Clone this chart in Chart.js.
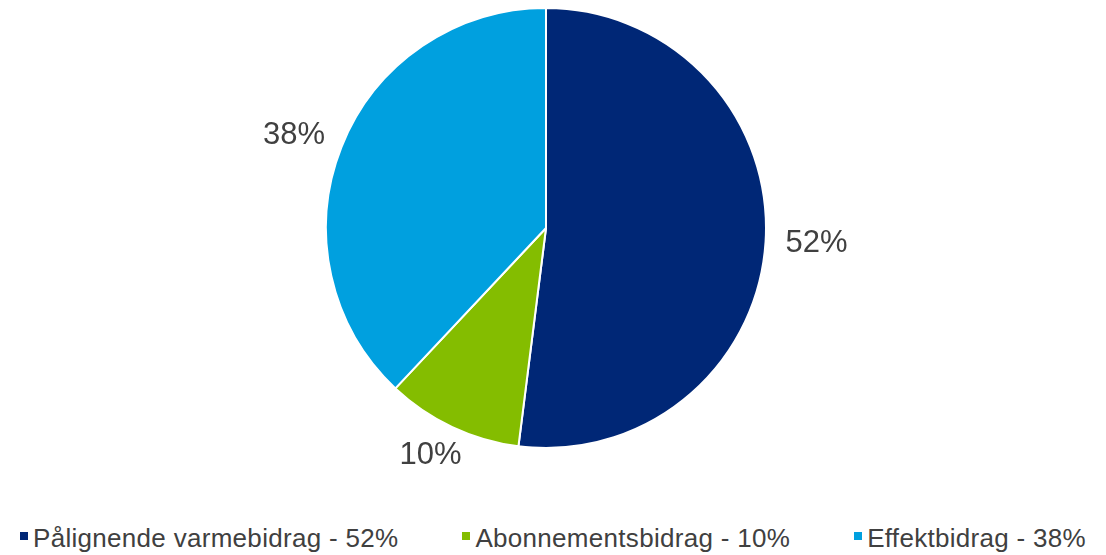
<!DOCTYPE html>
<html>
<head>
<meta charset="utf-8">
<script src="https://cdn.jsdelivr.net/npm/chart.js@4.4.0/dist/chart.umd.min.js"></script>
<style>
  html, body { margin: 0; padding: 0; background: #fff; }
  #wrap { position: relative; width: 1106px; height: 555px; }
  #c { display: block; }
  #legend {
    position: absolute; left: 0; top: 525px; width: 1106px;
    display: flex; justify-content: center; gap: 64px;
    font-family: "Liberation Sans", Arial, sans-serif; font-size: 26px; line-height: 26px;
    letter-spacing: 0.3px; color: #404040;
  }
  .item { display: flex; align-items: center; white-space: nowrap; }
  .box { width: 8px; height: 8px; margin-right: 5px; position: relative; top: -2px; }
</style>
</head>
<body>
<div id="wrap">
  <canvas id="c" width="1106" height="510"></canvas>
  <div id="legend"></div>
</div>
<script>
const labels = ["Pålignende varmebidrag - 52%", "Abonnementsbidrag - 10%", "Effektbidrag - 38%"];
const values = [52, 10, 38];
const colors = ["#002776", "#84bd00", "#00a0df"];

// Procentetiketter uden for cirklen
const outsideLabels = {
  id: "outsideLabels",
  afterDatasetsDraw(chart) {
    const ctx = chart.ctx;
    const meta = chart.getDatasetMeta(0);
    const total = values.reduce((a, b) => a + b, 0);
    ctx.save();
    ctx.font = '31px "Liberation Sans", Arial, sans-serif';
    ctx.fillStyle = "#404040";
    ctx.textAlign = "center";
    ctx.textBaseline = "middle";
    meta.data.forEach((arc, i) => {
      const p = arc.getProps(["x", "y", "startAngle", "endAngle", "outerRadius"], true);
      const mid = (p.startAngle + p.endAngle) / 2;
      const pct = Math.round(values[i] / total * 100) + "%";
      const w = ctx.measureText(pct).width;
      const h = 22;
      const r = p.outerRadius + 20;
      const x = p.x + Math.cos(mid) * r + Math.cos(mid) * w / 2;
      const y = p.y + Math.sin(mid) * r + Math.sin(mid) * h / 2;
      ctx.fillText(pct, x, y);
    });
    ctx.restore();
  }
};

new Chart(document.getElementById("c"), {
  type: "pie",
  data: {
    labels: labels,
    datasets: [{
      data: values,
      backgroundColor: colors,
      borderColor: "#ffffff",
      borderWidth: 2
    }]
  },
  options: {
    responsive: false,
    animation: false,
    layout: { padding: { top: 7, bottom: 61, left: 0, right: 14 } },
    plugins: {
      legend: { display: false },
      tooltip: { enabled: false }
    }
  },
  plugins: [outsideLabels]
});

const legend = document.getElementById("legend");
labels.forEach((l, i) => {
  const item = document.createElement("div");
  item.className = "item";
  const box = document.createElement("span");
  box.className = "box";
  box.style.background = colors[i];
  const txt = document.createElement("span");
  txt.textContent = l;
  item.appendChild(box);
  item.appendChild(txt);
  legend.appendChild(item);
});
</script>
</body>
</html>
